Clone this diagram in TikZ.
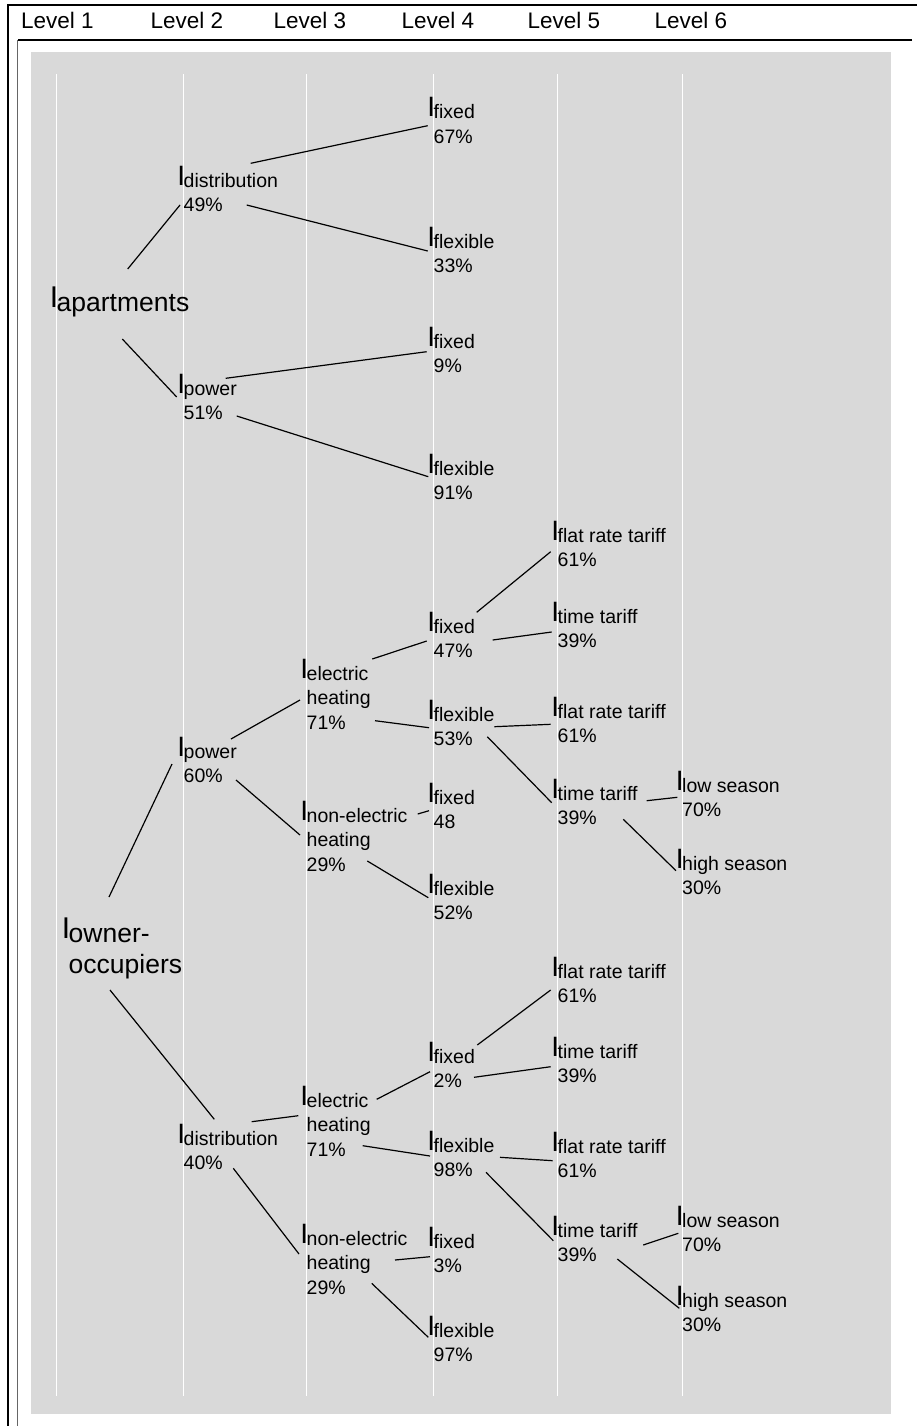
\documentclass[tikz,border=0pt]{standalone}
\usepackage{fontspec}
\setmainfont{Liberation Sans}
\usetikzlibrary{positioning}

\definecolor{panel}{HTML}{D9D9D9}

\newcommand{\bigI}[2]{\raisebox{#2}{\llap{\fontsize{#1}{#1}\selectfont I\kern-1.5pt}}}
\newcommand{\idx}[2]{\begin{tabular}[t]{@{}l@{}}\bigI{28}{2pt}#1\\#2\end{tabular}}
\newcommand{\rootidx}[1]{\begin{tabular}[t]{@{}l@{}}\bigI{30}{4pt}#1\end{tabular}}

\tikzset{
  level/.style={anchor=base west, inner sep=0pt, font=\fontsize{22.5}{27}\selectfont},
  leaf/.style={anchor=base west, inner sep=0pt, font=\fontsize{19.5}{24.5}\selectfont},
  root/.style={anchor=base west, inner sep=0pt, font=\fontsize{26.5}{31}\selectfont},
  link/.style={line width=1.2pt, black}
}

\begin{document}
\begin{tikzpicture}[x=1pt, y=-1pt]
      \useasboundingbox (0,0) rectangle (917,1426);
      % frames
      \draw [line width=2pt] (917,5) -- (7.8,5) -- (7.8,1426);
      \draw [line width=1.1pt] (912,40) -- (17.7,40);
      \draw [line width=1pt, black!60] (17.7,40) -- (17.7,1426);
      % panel with level lines
      \fill [panel] (31,52) rectangle (891,1414);
      \foreach \x in {56.5, 183, 306, 433, 557, 682}
        \draw [white, line width=1pt] (\x,74) -- (\x,1396);
      % level headers
      \foreach \i/\x in {1/21, 2/150.5, 3/273.5, 4/401.5, 5/527.5, 6/654.5}
        \node [level] (lvl\i) at (\x,29) {Level \i};
      % level 1
      \node [root] (apt) at (56.5,311) {\rootidx{apartments}};
      \node [root] (own) at (68.5,942.5) {\rootidx{owner-\\occupiers}};
      % levels 2 to 6
      \foreach \nm/\x/\y/\lbl/\pct in {
          dA/183.5/187/distribution/49\%, pA/183.5/395/power/51\%,
          pO/183.5/758/power/60\%, dO/183.5/1145/distribution/40\%,
          eP/306.5/680/{electric\\heating}/71\%, nP/306.5/822/{non-electric\\heating}/29\%,
          eD/306.5/1107/{electric\\heating}/71\%, nD/306.5/1245/{non-electric\\heating}/29\%,
          fA1/433.5/119/fixed/67\%, xA1/433.5/248/flexible/33\%,
          fA2/433.5/348/fixed/9\%, xA2/433.5/475/flexible/91\%,
          fP1/433.5/633/fixed/47\%, xP1/433.5/721/flexible/53\%,
          fP2/433.5/804/fixed/48, xP2/433.5/895/flexible/52\%,
          fD1/433.5/1063/fixed/2\%, xD1/433.5/1152/flexible/98\%,
          fD2/433.5/1248/fixed/3\%, xD2/433.5/1337/flexible/97\%,
          rP1/557.5/542/flat rate tariff/61\%, tP1/557.5/623/time tariff/39\%,
          rP2/557.5/718/flat rate tariff/61\%, tP2/557.5/800/time tariff/39\%,
          rD1/557.5/978/flat rate tariff/61\%, tD1/557.5/1058/time tariff/39\%,
          rD2/557.5/1153/flat rate tariff/61\%, tD2/557.5/1237/time tariff/39\%,
          lP/682/792/low season/70\%, hP/682/870/high season/30\%,
          lD/682/1227/low season/70\%, hD/682/1307/high season/30\%}
        \node [leaf] (\nm) at (\x,\y) {\idx{\lbl}{\pct}};
      % branches
      \foreach \a/\ax/\ay/\b/\bx/\by in {
          apt/71.2/-42/dA/-3.5/18, apt/65.8/28/pA/-6.8/2,
          dA/67.2/-23.7/fA1/-5.8/6.7, dA/63.2/18/xA1/-5.8/3,
          pA/42.2/-16.7/fA2/-6.8/3.7, pA/53.2/21/xA2/-5.2/1.7,
          own/40.5/-45.5/pO/-11.5/6, own/41.5/47.5/dO/30.8/-25.7,
          pO/47.5/-19/eP/-6.5/20, pO/52.5/22/nP/-6.5/13,
          eP/65.8/-21/fP1/-6.8/8, eP/68.5/40.7/xP1/-4.5/6.7,
          nP/111.2/-8/fP2/-4.5/6.7, nP/60.8/39/xP2/-5.2/2.7,
          fP1/43.2/-20.7/rP1/-6.8/9.7, fP1/59.2/7/tP1/-5.8/9,
          xP1/60.8/5.7/rP2/-6.8/6.3, xP1/53.8/15.7/tP2/-5.8/2.7,
          tP2/89.2/0.7/lP/-4.7/5.3, tP2/65.8/19.3/hP/-6/0.7,
          dO/68.2/-23.3/eD/-8.2/8.7, dO/49.8/23.3/nD/-7.5/9,
          eD/70.2/-7.7/fD1/-3.5/8.7, eD/56.2/38.7/xD1/-3.5/4,
          nD/88.5/15/fD2/-3.5/8.7, nD/65.2/38.3/xD2/-5.2/0.3,
          fD1/43.8/-18/rD1/-6.8/12, fD1/40.5/14.3/tD1/-6.8/8.7,
          xD1/66.5/5.3/rD2/-4.8/7.7, xD1/52.5/20.3/tD2/-4.2/3.7,
          tD2/85.8/8/lD/-3.7/6.3, tD2/59.8/22/hD/-2.7/1.3}
        \draw [link] ([shift={(\ax,\ay)}]\a.base west) -- ([shift={(\bx,\by)}]\b.base west);
\end{tikzpicture}
\end{document}
